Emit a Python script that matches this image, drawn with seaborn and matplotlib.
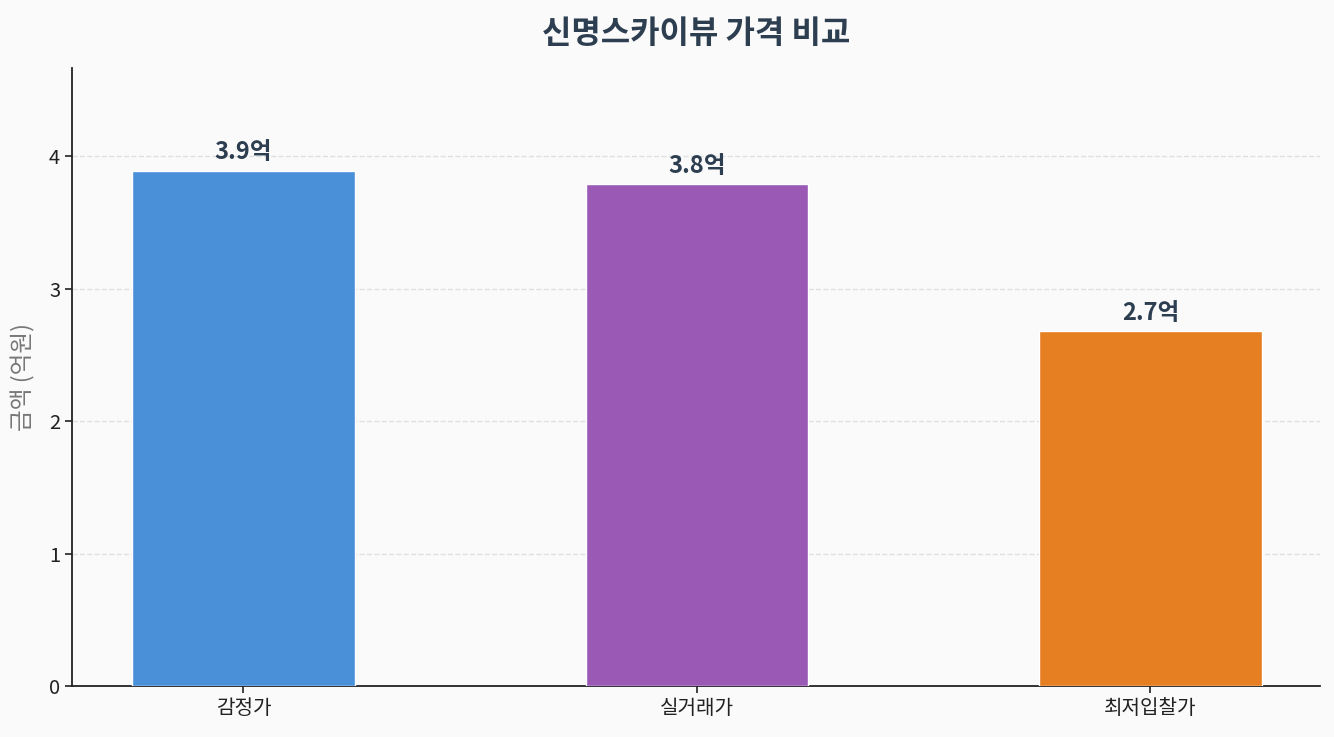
import matplotlib
matplotlib.use("Agg")
import matplotlib.pyplot as plt
import seaborn as sns
import pandas as pd

categories = ["감정가", "실거래가", "최저입찰가"]
values = [3.89, 3.79, 2.68]
labels = ["3.9억", "3.8억", "2.7억"]
colors = ["#4A90D9", "#9B59B6", "#E67E22"]

sns.set_style("white")
plt.rcParams['font.family'] = ['Noto Sans CJK KR', 'DejaVu Sans']

df = pd.DataFrame({"cat": categories, "val": values})
fig = plt.figure(figsize=(13.34, 7.37), dpi=100, facecolor="#FAFAFA")
ax = fig.add_axes([72/1334, 1 - 686/737, (1320-72)/1334, (686-68)/737])
ax.set_facecolor("#FAFAFA")
sns.barplot(data=df, x="cat", y="val", hue="cat", palette=colors, width=0.49,
            saturation=1, edgecolor="white", linewidth=1, legend=False, ax=ax, zorder=3)
ax.set_ylim(0, max(values) * 1.2)
ax.set_xlim(-0.378, 2.374)
ax.yaxis.grid(True, linestyle="--", color="#E0E0E0", linewidth=1, zorder=0)
ax.set_axisbelow(True)
for i, (v, l) in enumerate(zip(values, labels)):
    ax.text(i, v + 0.05, l, ha="center", va="bottom", fontsize=17, fontweight="bold", color="#2C3E50")
ax.set_xlabel("")
ax.set_ylabel("금액 (억원)", fontsize=17, color="#777777", labelpad=10)
ax.set_title("신명스카이뷰 가격 비교", fontsize=23, fontweight="bold", color="#2C3E50", pad=18)
ax.tick_params(axis="both", labelsize=14.5, length=5, width=1.2, left=True, bottom=True,
               color="#222222", labelcolor="#222222")
for s in ["top", "right"]:
    ax.spines[s].set_visible(False)
for s in ["left", "bottom"]:
    ax.spines[s].set_color("#222222")
    ax.spines[s].set_linewidth(1.3)
fig.savefig("out.png", dpi=100, facecolor="#FAFAFA")
